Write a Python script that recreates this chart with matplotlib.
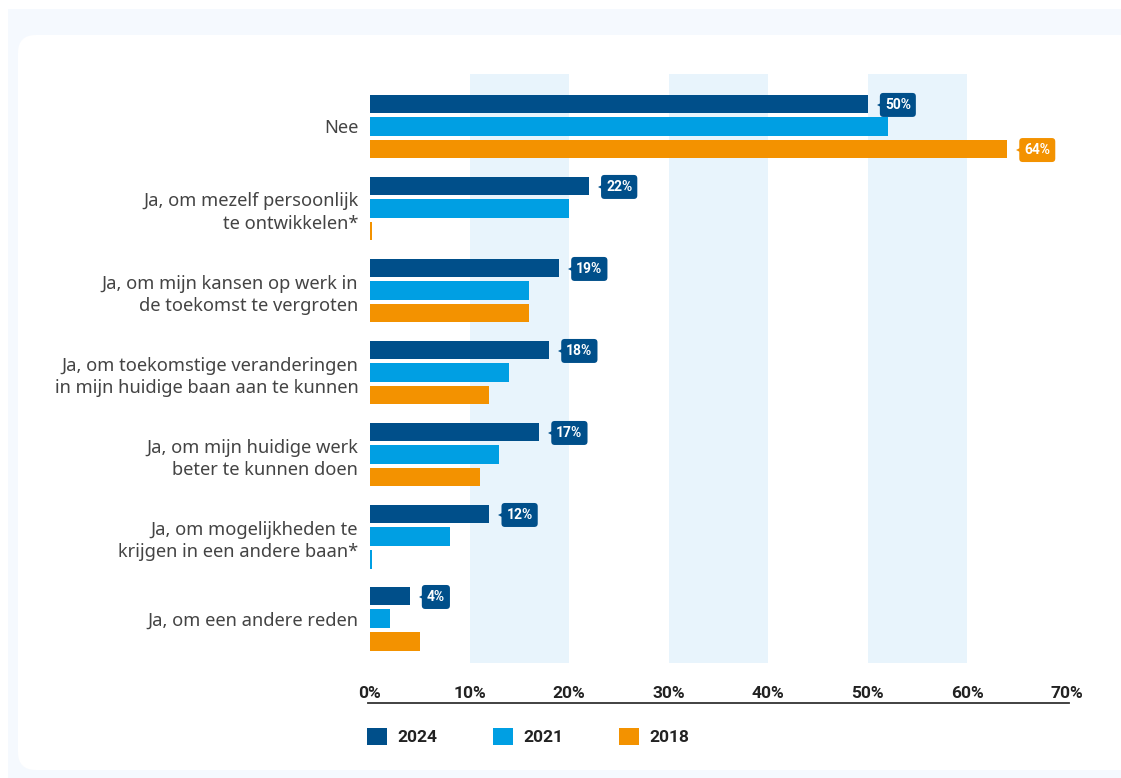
import matplotlib
matplotlib.use("Agg")
import matplotlib.pyplot as plt
import matplotlib.transforms as mtransforms
from matplotlib.patches import FancyBboxPatch, Patch, Rectangle

plt.rcParams["font.family"] = ["Noto Sans", "DejaVu Sans"]
BOLD_FONT = ["Roboto", "DejaVu Sans"]

categories = [
    "Nee",
    "Ja, om mezelf persoonlijk\nte ontwikkelen*",
    "Ja, om mijn kansen op werk in\nde toekomst te vergroten",
    "Ja, om toekomstige veranderingen\nin mijn huidige baan aan te kunnen",
    "Ja, om mijn huidige werk\nbeter te kunnen doen",
    "Ja, om mogelijkheden te\nkrijgen in een andere baan*",
    "Ja, om een andere reden",
]
years = ["2024", "2021", "2018"]
values_2024 = [50, 22, 19, 18, 17, 12, 4]
values_2021 = [52, 20, 16, 14, 13, 8, 2]
values_2018 = [64, 0.2, 16, 12, 11, 0.2, 5]
ticks = [0, 10, 20, 30, 40, 50, 60, 70]
tick_labels = ["0%", "10%", "20%", "30%", "40%", "50%", "60%", "70%"]

c2024 = "#004f8a"
c2021 = "#009fe3"
c2018 = "#f39200"
band = "#e8f4fc"

W, H = 1121, 778
fig = plt.figure(figsize=(W / 100, H / 100), dpi=100)
fig.patch.set_facecolor("white")

# pale frame behind the white card
fig.patches.append(Rectangle((8 / W, 0), 1, 1 - 9 / H, transform=fig.transFigure,
                             facecolor="#f5f9fe", edgecolor="none", zorder=-10))
fig.patches.append(FancyBboxPatch((18 / W, 8 / H), 1.2, 1 - 35 / H - 8 / H,
                                  boxstyle="round,pad=0,rounding_size=0.016",
                                  mutation_aspect=W / H,
                                  transform=fig.transFigure,
                                  facecolor="white", edgecolor="none", zorder=-9))

ax = fig.add_axes([368 / W, 1 - 703 / H, (1069 - 368) / W, (703 - 74) / H])
ax.set_facecolor("none")
ax.set_xlim(-0.2, 70.2)
ax.set_ylim(7.03, -0.64)

band_bottom = (703 - 663) / (703 - 74)
for lo in (10, 30, 50):
    ax.axvspan(lo, lo + 10, ymin=band_bottom, ymax=1, color=band, lw=0, zorder=0)

step = 0.275
height = 0.23
ys = list(range(len(categories)))
ax.barh([y - step for y in ys], values_2024, height=height, color=c2024, zorder=2)
ax.barh(ys, values_2021, height=height, color=c2021, zorder=2)
colors_2018 = [c2018] * len(categories)
colors_2018[5] = c2021
ax.barh([y + step for y in ys], values_2018, height=height, color=colors_2018, zorder=2)


def callout(value, y, color):
    ax.annotate(f"{value:g}%", xy=(value, y), xytext=(17, -1),
                textcoords="offset pixels", ha="left", va="center",
                color="white", fontsize=10, fontweight="bold", family=BOLD_FONT,
                zorder=4,
                bbox=dict(boxstyle="round,pad=0.36,rounding_size=0.25",
                          facecolor=color, edgecolor="none"))
    shift = mtransforms.ScaledTranslation(12 / 100, -1 / 100, fig.dpi_scale_trans)
    ax.plot([value], [y], marker="<", markersize=5, color=color, mew=0,
            transform=ax.transData + shift, zorder=4, clip_on=False)


for y, v in zip(ys, values_2024):
    callout(v, y - step, c2024)
callout(values_2018[0], 0 + step, c2018)

ax.set_yticks(ys)
ax.set_yticklabels(categories, fontsize=13.2, color="#444444", linespacing=1.3)
ax.tick_params(axis="y", length=0, pad=7)
ax.set_xticks([])
for side in ("top", "left", "right"):
    ax.spines[side].set_visible(False)
ax.spines["bottom"].set_color("#333333")
ax.spines["bottom"].set_linewidth(1.3)

label_tr = mtransforms.blended_transform_factory(ax.transData, ax.transAxes)
for t, lab in zip(ticks, tick_labels):
    ax.text(t, (703 - 693) / (703 - 74), lab, transform=label_tr, ha="center",
            va="center", fontsize=12.5, fontweight="bold", family=BOLD_FONT,
            color="#222222")

handles = [Patch(facecolor=c, edgecolor="none") for c in (c2024, c2021, c2018)]
fig.legend(handles, years, loc="upper left", bbox_to_anchor=(367 / W, 1 - 728 / H),
           ncol=3, frameon=False, handlelength=1.15, handleheight=1.15,
           handletextpad=0.6, columnspacing=3.2, borderpad=0, borderaxespad=0,
           prop={"weight": "bold", "size": 12.5, "family": BOLD_FONT})
for txt in fig.legends[0].get_texts():
    txt.set_color("#222222")

fig.savefig("out.png", dpi=100)
